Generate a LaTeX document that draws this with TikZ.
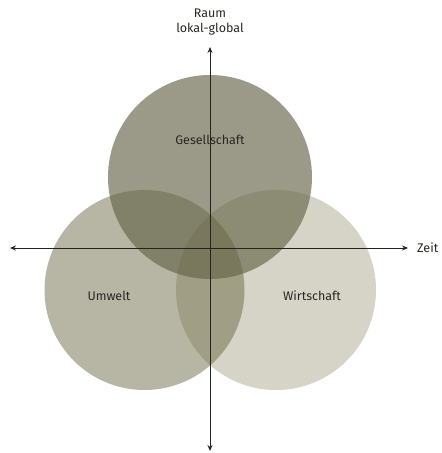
\documentclass[tikz,border=0pt]{standalone}
\usepackage{fontspec}
\setmainfont{Fira Sans}
\usetikzlibrary{arrows.meta}
\definecolor{cTop}{RGB}{101,100,72}
\definecolor{cLeft}{RGB}{95,93,55}
\definecolor{cRight}{RGB}{99,96,44}
\definecolor{axisc}{RGB}{35,35,30}
\definecolor{txt}{RGB}{40,40,35}
\tikzset{
  circ/.style={draw=none},
  axis/.style={draw=axisc, line width=0.8pt, -{Stealth[length=6pt,width=5pt]}},
  lbl/.style={font=\fontsize{12.5}{14}\selectfont, text=txt, inner sep=0pt},
}
\begin{document}
\begin{tikzpicture}[x=1pt,y=-1pt]
\useasboundingbox (0,0) rectangle (442,453);
\fill[cLeft, fill opacity=0.45] (144.5,290) circle (100);
\fill[cRight, fill opacity=0.27] (276,290) circle (100);
\fill[cTop, fill opacity=0.65] (210,177) circle (102);
\coordinate (c) at (210,248);
\coordinate (xl) at (10,248);
\coordinate (xr) at (408,248);
\coordinate (yt) at (210,47);
\coordinate (yb) at (210,451);
\draw[axis] (c) -- (xl);
\draw[axis] (c) -- (xr);
\draw[axis] (c) -- (yt);
\draw[axis] (c) -- (yb);
\node[lbl] (raum) at (210,13) {Raum};
\node[lbl] (lokal) at (210,29) {lokal-global};
\node[lbl, anchor=west] (zeit) at (417,248) {Zeit};
\node[lbl] (ges) at (210,140) {Gesellschaft};
\node[lbl] (umw) at (109,296) {Umwelt};
\node[lbl] (wir) at (312,296) {Wirtschaft};
\end{tikzpicture}
\end{document}
